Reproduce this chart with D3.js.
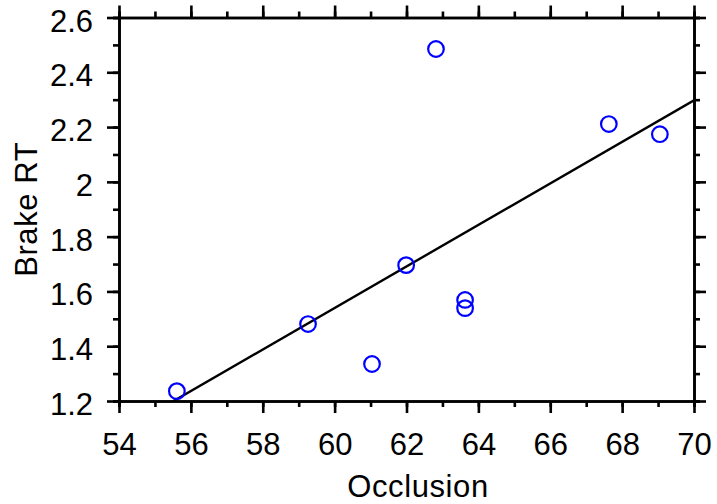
<!DOCTYPE html>
<html>
<head>
<meta charset="utf-8">
<script src="https://cdn.jsdelivr.net/npm/d3@7"></script>
<style>
  html, body { margin: 0; padding: 0; background: #fff; }
  svg { display: block; }
  text { font-family: "Liberation Sans", Arial, sans-serif; fill: #000; }
</style>
</head>
<body>
<svg id="chart" width="717" height="504"></svg>
<script>
// Occlusion vs. brake reaction time
const occlusion = [55.61, 59.26, 61.04, 61.99, 62.82, 63.63, 63.63, 67.63, 69.05];
const brakeRT   = [1.236, 1.481, 1.335, 1.696, 2.485, 1.569, 1.539, 2.211, 2.174];
const xTicks = [54, 56, 58, 60, 62, 64, 66, 68, 70];
const yTicks = [1.2, 1.4, 1.6, 1.8, 2, 2.2, 2.4, 2.6];
const xMinor = d3.range(54, 70.5, 1);
const yMinor = d3.range(12, 26.5, 1).map(v => v / 10);

const svg = d3.select("#chart");
const plot = { left: 119, right: 694, top: 17.5, bottom: 401 };
const fontSize = 31;

const x = d3.scaleLinear().domain([54, 70]).range([plot.left, plot.right]);
const y = d3.scaleLinear().domain([1.2, 2.6]).range([plot.bottom, plot.top]);

// least-squares fit line
const mx = d3.mean(occlusion), my = d3.mean(brakeRT);
const sxy = d3.sum(occlusion, (v, i) => (v - mx) * (brakeRT[i] - my));
const sxx = d3.sum(occlusion, v => (v - mx) * (v - mx));
const slope = sxy / sxx, intercept = my - slope * mx;

svg.append("clipPath").attr("id", "plot-clip")
  .append("rect").attr("x", plot.left).attr("y", plot.top)
  .attr("width", plot.right - plot.left).attr("height", plot.bottom - plot.top);

const fitLine = d3.line().x(d => x(d)).y(d => y(intercept + slope * d));
svg.append("path")
  .datum([54, 70])
  .attr("d", fitLine)
  .attr("clip-path", "url(#plot-clip)")
  .attr("fill", "none")
  .attr("stroke", "#000")
  .attr("stroke-width", 2.4);

// markers
svg.append("g").selectAll("circle")
  .data(occlusion.map((v, i) => [v, brakeRT[i]]))
  .join("circle")
  .attr("cx", d => x(d[0]))
  .attr("cy", d => y(d[1]))
  .attr("r", 7.8)
  .attr("fill", "none")
  .attr("stroke", "#0000ff")
  .attr("stroke-width", 2.2);

// axes: labelled on bottom/left, ticks on all four sides, pointing outward
function styleAxis(g) {
  g.selectAll("path.domain").attr("stroke", "#000").attr("stroke-width", 2.6);
  g.selectAll(".tick line").attr("stroke", "#000").attr("stroke-width", 2.6);
  g.selectAll("text").style("font-size", fontSize + "px")
    .style("font-family", "'Liberation Sans', Arial, sans-serif").attr("fill", "#000");
}

function addAxis(axisFn, scale, transform, ticks, minor, labelled) {
  svg.append("g").attr("transform", transform)
    .call(axisFn(scale).tickValues(minor).tickSize(6).tickFormat(""))
    .call(styleAxis);
  const g = svg.append("g").attr("transform", transform)
    .call(axisFn(scale).tickValues(ticks).tickSize(12).tickSizeOuter(0)
      .tickPadding(14).tickFormat(labelled ? d3.format("") : ""))
    .call(styleAxis);
  return g;
}

const gx = addAxis(d3.axisBottom, x, `translate(0,${plot.bottom})`, xTicks, xMinor, true);
gx.selectAll("text").attr("dy", null).attr("y", 54);
addAxis(d3.axisTop, x, `translate(0,${plot.top})`, xTicks, xMinor, false);
const gy = addAxis(d3.axisLeft, y, `translate(${plot.left},0)`, yTicks, yMinor, true);
gy.selectAll("text").attr("x", -26).attr("dy", null).attr("y", 13.5);
addAxis(d3.axisRight, y, `translate(${plot.right},0)`, yTicks, yMinor, false);

// axis titles
svg.append("text")
  .attr("x", 418).attr("y", 497)
  .attr("text-anchor", "middle")
  .style("font-size", fontSize + "px")
  .style("letter-spacing", "0.6px")
  .text("Occlusion");

svg.append("text")
  .attr("transform", `translate(37,${(plot.top + plot.bottom) / 2}) rotate(-90)`)
  .attr("text-anchor", "middle")
  .style("font-size", fontSize + "px")
  .style("letter-spacing", "0.6px")
  .text("Brake RT");
</script>
</body>
</html>
